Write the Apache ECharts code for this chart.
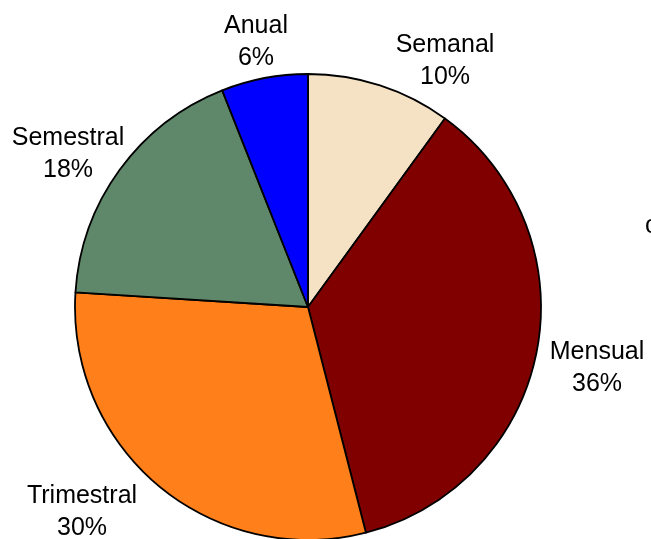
<!DOCTYPE html>
<html>
<head>
<meta charset="utf-8">
<script src="https://cdn.jsdelivr.net/npm/echarts@6/dist/echarts.min.js"></script>
<style>
  html, body { margin: 0; padding: 0; background: #fff; }
  #chart { width: 651px; height: 539px; }
</style>
</head>
<body>
<div id="chart"></div>
<script>
// Frequency shares, clockwise from 12 o'clock
const categories = ['Semanal', 'Mensual', 'Trimestral', 'Semestral', 'Anual'];
const shares = [10, 36, 30, 18, 6];
const sliceColors = ['#F5E2C4', '#800000', '#FF7F1A', '#5E8869', '#0000FF'];

// Label anchor points (pixel centres of each two-line label)
const labelSpots = [[445, 61], [597, 368], [82, 512], [68, 154], [256, 42]];

const chart = echarts.init(document.getElementById('chart'), null, { renderer: 'canvas' });

chart.setOption({
  animation: false,
  backgroundColor: '#ffffff',
  series: [{
    type: 'pie',
    center: [308, 307],
    radius: [0, 233],
    startAngle: 90,
    clockwise: true,
    avoidLabelOverlap: false,
    data: categories.map((name, i) => ({
      name,
      value: shares[i],
      itemStyle: { color: sliceColors[i] }
    })),
    itemStyle: { borderColor: '#000000', borderWidth: 1.8 },
    label: {
      show: true,
      position: 'outside',
      formatter: p => p.name + '\n' + p.value + '%',
      fontFamily: 'Liberation Sans, Arial, sans-serif',
      fontSize: 25,
      lineHeight: 32,
      color: '#000000',
      align: 'center'
    },
    labelLine: { show: false },
    labelLayout: params => ({
      x: labelSpots[params.dataIndex][0],
      y: labelSpots[params.dataIndex][1],
      align: 'center',
      verticalAlign: 'middle'
    }),
    emphasis: { disabled: true }
  }],
  graphic: [{
    type: 'text',
    left: 645,
    top: 214,
    style: {
      text: 'c',
      fontFamily: 'Liberation Sans, Arial, sans-serif',
      fontSize: 25,
      fill: '#000000'
    }
  }]
});
</script>
</body>
</html>
